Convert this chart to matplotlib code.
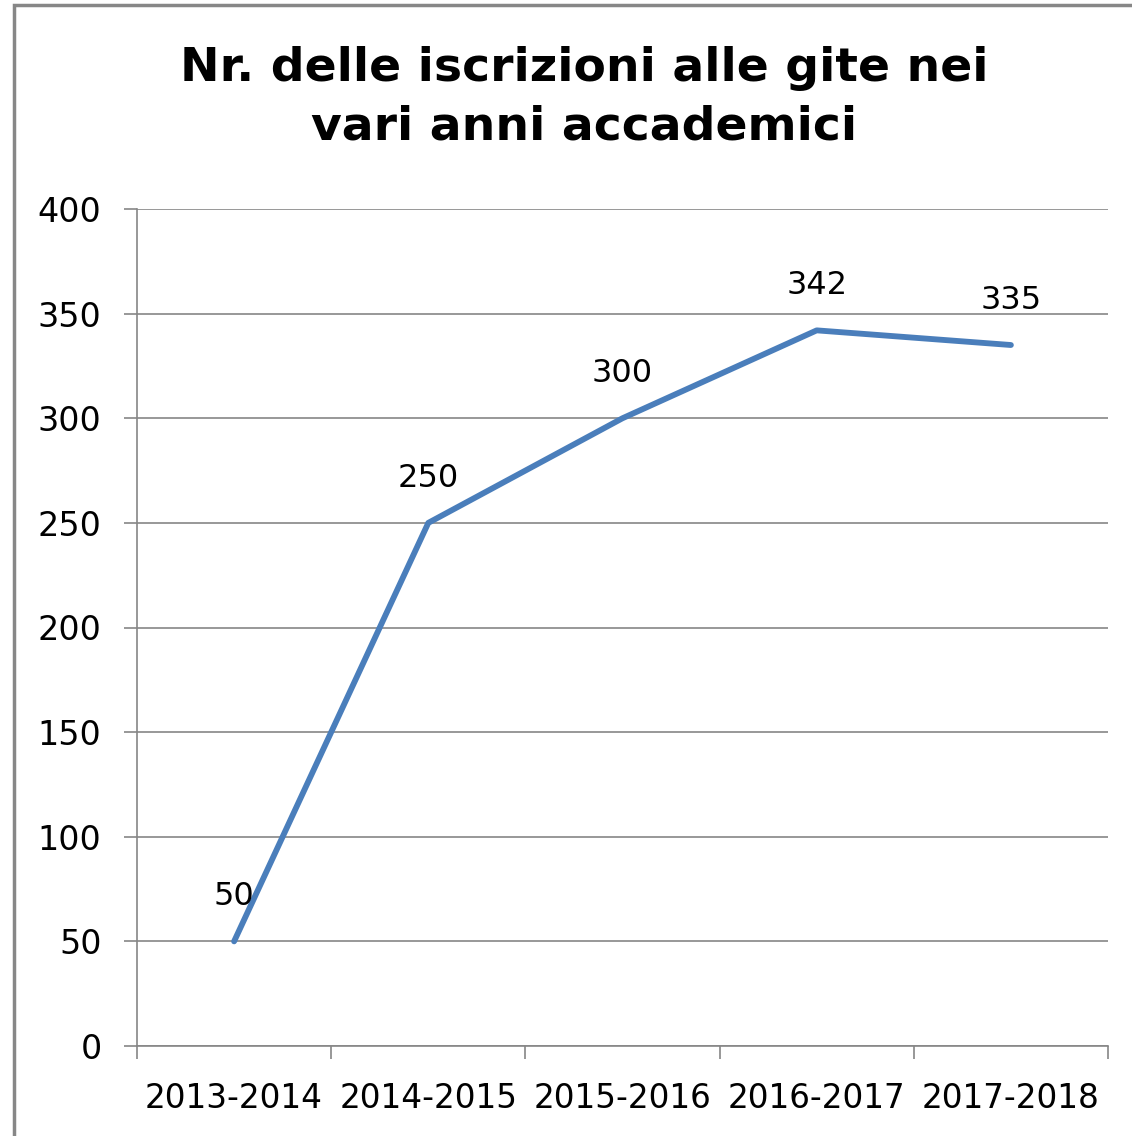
import matplotlib
matplotlib.use("Agg")
import matplotlib.pyplot as plt
from matplotlib.patches import Rectangle
from matplotlib.ticker import FixedLocator, MultipleLocator

categories = ["2013-2014", "2014-2015", "2015-2016", "2016-2017", "2017-2018"]
values = [50, 250, 300, 342, 335]
title = "Nr. delle iscrizioni alle gite nei\nvari anni accademici"

plt.rcParams['font.family'] = ['DejaVu Sans']
W, H = 1132, 1136
fig = plt.figure(figsize=(W/100, H/100), dpi=100)
fig.patch.set_facecolor('white')

# outer chart frame (left and top edges visible)
fig.patches.append(Rectangle((14/W, -0.05), 1.2, 1 - 5/H + 0.05, transform=fig.transFigure,
                             fill=False, edgecolor='#878787', linewidth=2.5, zorder=0))

ax = fig.add_axes([137/W, 1 - 1046/H, (1108-137)/W, (1046-209)/H])
x = list(range(len(categories)))
ax.plot(x, values, color='#4A7EBB', linewidth=4.2, solid_capstyle='round', zorder=3)
for xi, v in zip(x, values):
    ax.annotate(str(v), (xi, v), xytext=(0, 21), textcoords='offset points',
                ha='center', va='bottom', fontsize=23, color='black')

ax.set_xlim(-0.5, len(categories) - 0.5)
ax.set_ylim(0, 400)
ax.yaxis.set_major_locator(MultipleLocator(50))
ax.grid(axis='y', color='#868686', linewidth=1.2)
ax.set_axisbelow(True)

ax.xaxis.set_major_locator(FixedLocator([i - 0.5 for i in range(len(categories) + 1)]))
ax.xaxis.set_minor_locator(FixedLocator(x))
ax.set_xticklabels([])
ax.set_xticklabels(categories, minor=True)
ax.tick_params(axis='x', which='major', length=9, width=1.2, color='#868686', direction='out')
ax.tick_params(axis='x', which='minor', length=0, pad=26, labelsize=23.5)
ax.tick_params(axis='y', length=9.5, width=1.2, color='#868686', labelsize=24, pad=16)

for s in ['top', 'right']:
    ax.spines[s].set_visible(False)
for s in ['left', 'bottom']:
    ax.spines[s].set_color('#868686')
    ax.spines[s].set_linewidth(1.2)

fig.text(584/W, 1 - 98/H, title, ha='center', va='center', fontsize=34,
         fontweight='bold', linespacing=1.4)

fig.savefig('out.png', dpi=100)
